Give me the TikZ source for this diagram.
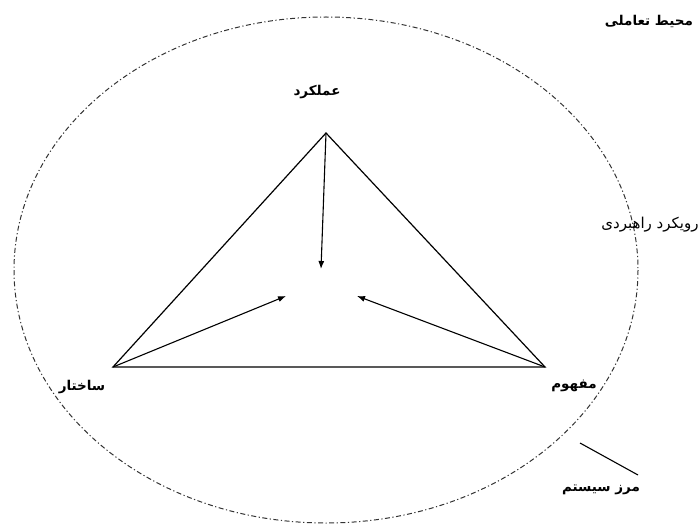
\documentclass[tikz,border=0pt]{standalone}
\usepackage{fontspec}
\newfontfamily\arabicfont[Script=Arabic]{DejaVu Sans}
\TeXXeTstate=1
\usetikzlibrary{arrows.meta}

\begin{document}
\begin{tikzpicture}[x=1pt,y=-1pt,>={Latex[length=8pt,width=6pt]},
 lbl/.style={font=\arabicfont\bfseries\fontsize{13.5}{15}\selectfont,inner sep=0pt},
 plain/.style={font=\arabicfont\fontsize{15}{17}\selectfont,inner sep=0pt},
 bound/.style={draw=black!80,line width=1pt,dash pattern=on 5pt off 2.5pt on 1.2pt off 2.5pt}]
 \useasboundingbox (0,0) rectangle (699,524);
 \draw[bound] (326,270) ellipse [x radius=312,y radius=253];
 % triangle corners
 \coordinate (top) at (326,133);
 \coordinate (lft) at (113,367);
 \coordinate (rgt) at (545,367);
 \coordinate (c1) at (321,269);
 \coordinate (c2) at (286,296);
 \coordinate (c3) at (357,296);
 \draw[line width=1.2pt] (top)--(lft)--(rgt)--cycle;
 \draw[->,line width=1.1pt] (top)--(c1);
 \draw[->,line width=1.1pt] (lft)--(c2);
 \draw[->,line width=1.1pt] (rgt)--(c3);
 \node[lbl] (env) at (649,21) {\beginR محیط تعاملی\endR};
 \node[lbl] (perf) at (317,92) {\beginR عملکرد\endR};
 \node[plain] (strat) at (650,225) {\beginR رویکرد راهبردی\endR};
 \node[lbl] (struc) at (82,387) {\beginR ساختار\endR};
 \node[lbl] (conc) at (574,386) {\beginR مفهوم\endR};
 \node[lbl] (sysb) at (601,490) {\beginR مرز سیستم\endR};
 \coordinate (p1) at (580,443);
 \coordinate (p2) at (638,475);
 \draw[line width=1.1pt] (p1)--(p2);
\end{tikzpicture}
\end{document}
